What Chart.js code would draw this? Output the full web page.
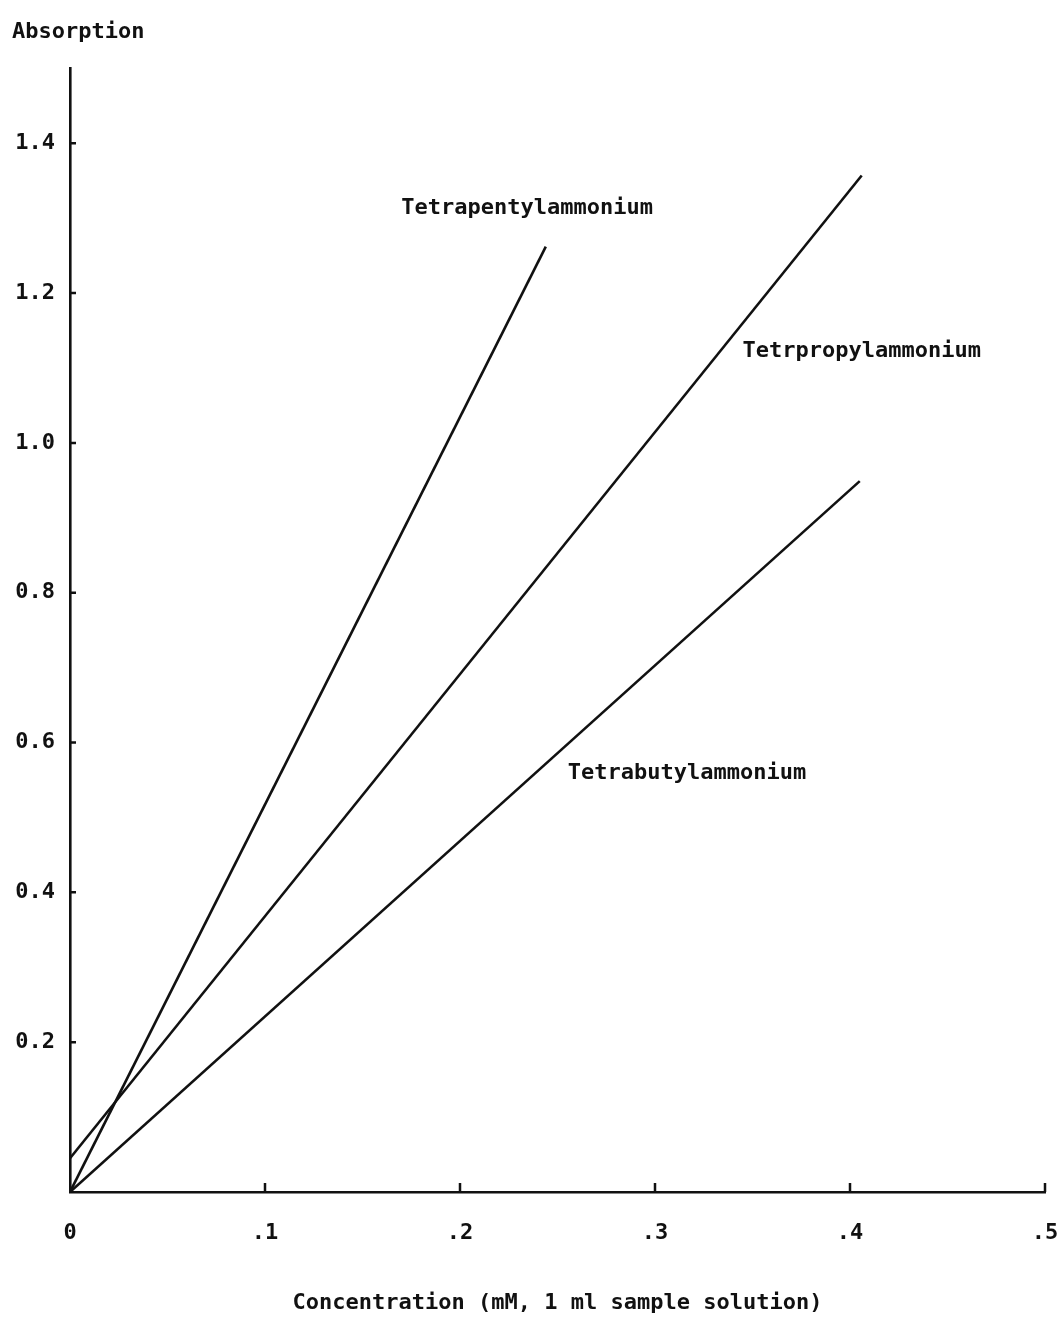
<!DOCTYPE html>
<html>
<head>
<meta charset="utf-8">
<script src="https://cdn.jsdelivr.net/npm/chart.js@4/dist/chart.umd.min.js"></script>
<style>
  html, body { margin: 0; padding: 0; background: #fff; }
  #wrap { width: 1060px; height: 1318px; position: relative; }
</style>
</head>
<body>
<div id="wrap"><canvas id="c" width="1060" height="1318"></canvas></div>
<script>
// Calibration lines: absorption vs. concentration for three quaternary ammonium ions
const seriesNames = ['Tetrapentylammonium', 'Tetrpropylammonium', 'Tetrabutylammonium'];
const pentylX = [0, 0.244];
const pentylY = [0.0, 1.262];
const propylX = [0, 0.406];
const propylY = [0.045, 1.357];
const butylX = [0, 0.405];
const butylY = [0.0, 0.949];

const xTicks = [0, 0.1, 0.2, 0.3, 0.4, 0.5];
const xTickLabels = ['0', '.1', '.2', '.3', '.4', '.5'];
const yTicks = [0.2, 0.4, 0.6, 0.8, 1.0, 1.2, 1.4];
const yTickLabels = ['0.2', '0.4', '0.6', '0.8', '1.0', '1.2', '1.4'];

const xTitle = 'Concentration (mM, 1 ml sample solution)';
const yTitle = 'Absorption';

const FONT = '"DejaVu Sans Mono", "Liberation Mono", monospace';

function toPoints(xs, ys) {
  return xs.map((x, i) => ({ x: x, y: ys[i] }));
}

// Where each series name is written, in data units of the chart
const labelAnchors = [
  { x: 0.2344, y: 1.313 },
  { x: 0.406, y: 1.123 },
  { x: 0.3164, y: 0.559 }
];

const lineLabels = {
  id: 'lineLabels',
  afterDatasetsDraw(chart) {
    const { ctx, scales: { x, y } } = chart;
    ctx.save();
    ctx.fillStyle = '#111';
    ctx.font = 'bold 22px ' + FONT;
    ctx.textAlign = 'center';
    ctx.textBaseline = 'middle';
    chart.data.datasets.forEach((ds, i) => {
      const a = labelAnchors[i];
      ctx.fillText(ds.label, x.getPixelForValue(a.x), y.getPixelForValue(a.y));
    });
    ctx.restore();
  }
};

// Short tick marks drawn inward from both axes
const innerTicks = {
  id: 'innerTicks',
  afterDatasetsDraw(chart) {
    const { ctx, scales: { x, y } } = chart;
    ctx.save();
    ctx.strokeStyle = '#111';
    ctx.lineWidth = 2.5;
    ctx.beginPath();
    const y0 = y.getPixelForValue(0);
    xTicks.forEach(v => {
      if (v === 0) return;
      const px = x.getPixelForValue(v);
      ctx.moveTo(px, y0);
      ctx.lineTo(px, y0 - 9);
    });
    const x0 = x.getPixelForValue(0);
    yTicks.forEach(v => {
      const py = y.getPixelForValue(v);
      ctx.moveTo(x0, py);
      ctx.lineTo(x0 + 6, py);
    });
    ctx.stroke();
    ctx.restore();
  }
};

const lineStyle = {
  showLine: true,
  borderColor: '#111',
  borderWidth: 2.6,
  pointRadius: 0,
  pointHoverRadius: 0,
  fill: false,
  tension: 0
};

new Chart(document.getElementById('c'), {
  type: 'scatter',
  data: {
    datasets: [
      Object.assign({ label: seriesNames[0], data: toPoints(pentylX, pentylY) }, lineStyle),
      Object.assign({ label: seriesNames[1], data: toPoints(propylX, propylY) }, lineStyle),
      Object.assign({ label: seriesNames[2], data: toPoints(butylX, butylY) }, lineStyle)
    ]
  },
  options: {
    responsive: false,
    animation: false,
    events: [],
    layout: { padding: { left: 12, right: 15, top: 0, bottom: 0 } },
    plugins: {
      legend: { display: false },
      tooltip: { enabled: false },
      title: {
        display: true,
        text: yTitle,
        align: 'start',
        color: '#111',
        font: { family: FONT, size: 22, weight: 'bold' },
        padding: { top: 19, bottom: 23 }
      }
    },
    scales: {
      x: {
        type: 'linear',
        min: 0,
        max: 0.5,
        afterBuildTicks(scale) {
          scale.ticks = xTicks.map(v => ({ value: v }));
        },
        afterFit(scale) {
          scale.height = 126;
          scale.paddingLeft = 0;
          scale.paddingRight = 0;
        },
        ticks: {
          color: '#111',
          font: { family: FONT, size: 22, weight: 'bold' },
          padding: 28,
          maxRotation: 0,
          autoSkip: false,
          callback: (v) => {
            const i = xTicks.findIndex(t => Math.abs(t - v) < 1e-9);
            return i >= 0 ? xTickLabels[i] : '';
          }
        },
        grid: { display: true, drawOnChartArea: false, drawTicks: false, color: 'rgba(0,0,0,0)' },
        border: { display: true, color: '#111', width: 2.6 },
        title: {
          display: true,
          text: xTitle,
          color: '#111',
          font: { family: FONT, size: 22, weight: 'bold' },
          padding: { top: 0, bottom: 2 }
        }
      },
      y: {
        type: 'linear',
        min: 0,
        max: 1.5,
        afterBuildTicks(scale) {
          scale.ticks = yTicks.map(v => ({ value: v }));
        },
        afterFit(scale) {
          scale.width = 58;
          scale.paddingTop = 0;
          scale.paddingBottom = 0;
        },
        ticks: {
          color: '#111',
          font: { family: FONT, size: 22, weight: 'bold' },
          padding: 15,
          autoSkip: false,
          callback: (v) => {
            const i = yTicks.findIndex(t => Math.abs(t - v) < 1e-9);
            return i >= 0 ? yTickLabels[i] : '';
          }
        },
        grid: { display: true, drawOnChartArea: false, drawTicks: false, color: 'rgba(0,0,0,0)' },
        border: { display: true, color: '#111', width: 2.6 }
      }
    }
  },
  plugins: [innerTicks, lineLabels]
});
</script>
</body>
</html>
